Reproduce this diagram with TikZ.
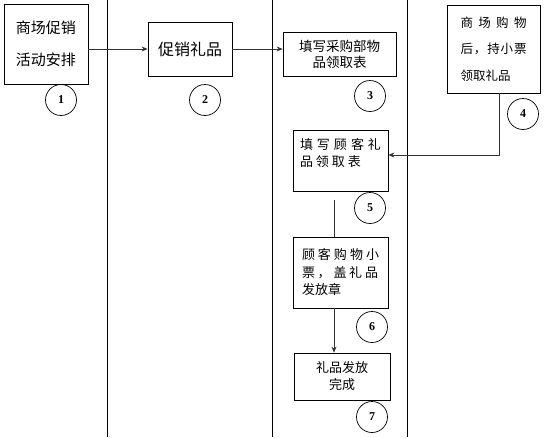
\documentclass[tikz,border=0pt]{standalone}
\usepackage{fontspec}
\setmainfont{Noto Sans CJK SC}
\newfontfamily\numfont{Liberation Serif}
\usetikzlibrary{arrows.meta}

\begin{document}
\begin{tikzpicture}[x=1pt, y=-1pt,
    box/.style={draw, line width=0.8pt, inner sep=0pt, align=center},
    num/.style={draw, circle, line width=0.7pt, minimum size=31pt, inner sep=0pt,
                font=\numfont\bfseries\fontsize{12}{12}\selectfont},
    link/.style={line width=0.7pt, black!80, -{Stealth[length=6pt, width=5pt]}}]
    \useasboundingbox (0,0) rectangle (546,437);

    % draw the lane separators
    \draw [line width=0.8pt] (107,0) -- (107,437);
    \draw [line width=0.8pt] (272,0) -- (272,437);
    \draw [line width=0.8pt] (407,0) -- (407,437);

    % draw the boxes of the first two lanes
    \node [box, minimum width=84pt, minimum height=80pt, font=\fontsize{15}{32}\selectfont]
        (b1) at (46,44) {商场促销\\活动安排};
    \node [box, minimum width=84pt, minimum height=54pt, font=\fontsize{16}{18}\selectfont]
        (b2) at (190,49) {促销礼品};

    % draw the boxes of the third lane
    \node [box, minimum width=113pt, minimum height=44pt, font=\fontsize{13.5}{16}\selectfont]
        (b3) at (339.5,54) {填写采购部物\\品领取表};
    \node [box, align=left, minimum width=95pt, minimum height=61pt, font=\fontsize{13}{17}\selectfont]
        (b5) at (340.5,160.5) {\makebox[81pt][s]{填\hfill 写\hfill 顾\hfill 客\hfill 礼}\\
                               \makebox[61pt][s]{品\hfill 领\hfill 取\hfill 表}\\\mbox{}};
    \node [box, align=left, minimum width=95pt, minimum height=71pt, font=\fontsize{13}{17.5}\selectfont]
        (b6) at (340.5,272.5) {\makebox[77pt][s]{顾\hfill 客\hfill 购\hfill 物\hfill 小}\\
                               \makebox[76pt][s]{票\hfill ，\hfill 盖\hfill 礼\hfill 品}\\发放章};
    \node [box, minimum width=96pt, minimum height=47pt, font=\fontsize{13}{17}\selectfont]
        (b7) at (342,376.5) {礼品发放\\完成};

    % draw the box of the last lane
    \node [box, align=left, minimum width=93pt, minimum height=88pt, font=\fontsize{12.5}{26.5}\selectfont]
        (b4) at (493.5,49) {\makebox[66pt][s]{商\hfill 场\hfill 购\hfill 物}\\
                            \makebox[66pt][s]{后\hfill ，\hfill 持\hfill 小\hfill 票}\\领取礼品};

    % draw the step numbers
    \node [num] (n1) at (61,100) {1};
    \node [num] (n2) at (205,100) {2};
    \node [num] (n3) at (370,96) {3};
    \node [num] (n4) at (523,114) {4};
    \node [num] (n5) at (370,208) {5};
    \node [num] (n6) at (372,327) {6};
    \node [num] (n7) at (372,417) {7};

    % draw the connectors
    \coordinate (k4) at (499,155);
    \coordinate (k5) at (334,200);
    \draw [link] (b1.east |- b2.west) -- (b2.west);
    \draw [link] (b2.east) -- (b2.east -| b3.west);
    \draw [link] (b4.south -| k4) -- (k4) -- (k4 -| b5.east);
    \draw [line width=0.7pt, black!80] (k5) -- (k5 |- b6.north);
    \draw [link] (b6.south -| k5) -- (b7.north -| k5);

\end{tikzpicture}
\end{document}
